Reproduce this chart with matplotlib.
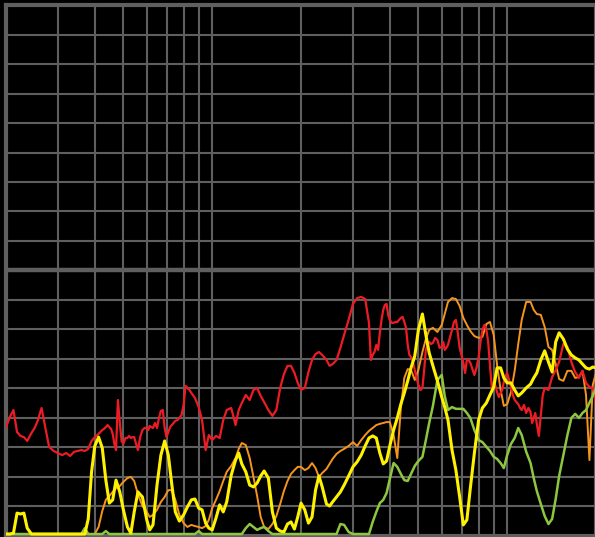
"""Four-band level traces on a black log-frequency grid."""
import numpy as np
import matplotlib
matplotlib.use("Agg")
import matplotlib.pyplot as plt

# shared frequency axis (Hz), R80 steps from 20 Hz to 2 kHz
FREQ = [
    20, 20.6, 21.2, 21.8, 22.4, 23, 23.6, 24.4, 25, 25.6,
    26.4, 27.2, 28, 29, 30, 31, 32, 33, 34, 35,
    36, 37, 38, 39, 40, 41.2, 42.4, 43.6, 44.8, 46,
    47.2, 48.6, 50, 51.6, 53, 54.4, 56, 58, 60, 61.4,
    63, 65, 67, 69, 71, 73, 75, 77.4, 80, 82.4,
    85, 87.4, 90, 92.4, 95, 97.4, 100, 103, 106, 109,
    112, 116, 120, 123, 126, 130, 134, 138, 142, 146,
    150, 155, 160, 165, 170, 175, 180, 185, 190, 195,
    200, 206, 212, 218, 224, 230, 236, 244, 250, 256,
    264, 272, 280, 290, 300, 310, 320, 330, 340, 350,
    360, 370, 380, 390, 400, 412, 424, 436, 448, 460,
    472, 486, 500, 516, 530, 544, 560, 580, 600, 614,
    630, 650, 670, 690, 710, 730, 750, 774, 800, 824,
    850, 874, 900, 924, 950, 974, 1000, 1030, 1060, 1090,
    1120, 1160, 1200, 1230, 1260, 1300, 1340, 1380, 1420, 1460,
    1500, 1550, 1600, 1650, 1700, 1750, 1800, 1850, 1900, 1950,
    2000,
]

# red is noisier, so it gets half steps where it jitters most
RED_FREQ = [
    20, 20.6, 21.2, 21.8, 22.4, 23, 23.6, 24.4, 25, 25.6,
    26.4, 27.2, 28, 29, 30, 31, 32, 33, 34, 35,
    36, 37, 38, 39, 40, 41.2,
    42.4, 43.0, 43.6, 44.2, 44.8, 45.4, 46, 46.6, 47.2, 47.9,
    48.6, 49.3, 50, 50.8, 51.6, 52.3, 53, 53.7, 54.4, 55.2,
    56, 57, 58, 59, 60, 60.7, 61.4, 62.2, 63, 64,
    65, 66, 67, 68, 69, 70, 71, 72, 73, 74,
    75, 76.2, 77.4, 78.7, 80, 81.2, 82.4, 83.7, 85,
    87.4, 90, 92.4, 95, 97.4, 100, 103, 106, 109, 112,
    116, 120, 123, 126, 130, 134, 138, 142, 146, 150,
    155, 160, 165, 170, 175, 180, 185, 190, 195, 200,
    206, 212, 218, 224, 230, 236, 244, 250, 256, 264,
    272, 280, 290, 300, 310, 320, 330,
    340, 345, 350, 355, 360, 365, 370, 375, 380, 385,
    390, 395, 400, 406, 412, 418, 424, 430, 436, 442,
    448, 454, 460, 466, 472, 479, 486, 493, 500, 508,
    516, 523, 530, 537, 544, 552, 560, 570, 580, 590,
    600, 607, 614, 622, 630, 640, 650, 660, 670, 680,
    690, 700, 710, 720, 730, 740, 750, 762, 774, 787,
    800, 812, 824, 837, 850, 862, 874, 887, 900, 912,
    924, 937, 950, 962, 974, 987, 1000, 1015, 1030, 1045,
    1060, 1075, 1090, 1105, 1120, 1140, 1160, 1180, 1200, 1215,
    1230, 1245, 1260, 1280, 1300, 1320, 1340,
    1380, 1420, 1460, 1500, 1550, 1600, 1650, 1700, 1750, 1800,
    1850, 1900, 1950, 2000,
]

RED = [
    36.8, 40.2, 42.6, 35.1, 33.8, 33.4, 32.1, 34.8, 36.5, 38.9,
    43.3, 36.5, 30.1, 28.7, 28.0, 27.3, 28.0, 27.0, 28.4, 28.7,
    29.0, 28.7, 29.4, 32.1, 33.4, 34.5,
    35.8, 36.2, 36.8, 37.5, 36.8, 36.2, 34.5, 31.1, 29.0, 46.0,
    38.5, 32.1, 31.1, 33.1, 33.1, 33.8, 33.1, 33.4, 33.4, 31.1,
    29.0, 33.4, 35.8, 36.5, 36.5, 35.8, 37.2, 36.8, 36.5, 38.2,
    36.5, 39.9, 42.3, 42.6, 36.5, 33.4, 35.1, 36.8, 37.5, 38.2,
    38.9, 39.2, 39.9, 40.9, 44.3, 50.8, 50.1, 49.4, 48.4,
    46.7, 43.6, 39.2, 29.0, 34.1, 32.4, 33.8, 33.1, 39.2, 42.6,
    43.3, 37.5, 42.6, 45.0, 47.7, 46.0, 49.4, 50.1, 47.4, 45.3,
    42.6, 40.6, 42.6, 50.1, 54.8, 57.6, 57.6, 55.2, 51.8, 49.4,
    50.1, 55.5, 59.6, 61.6, 62.3, 61.3, 59.6, 57.6, 58.2, 59.6,
    63.7, 68.1, 73.2, 78.6, 80.6, 81.0, 80.3,
    72.2, 59.6, 61.3, 62.3, 64.7, 63.0, 68.8, 73.2, 76.6, 78.3,
    78.6, 74.9, 73.2, 72.2, 72.2, 72.5, 72.5, 73.2, 73.9, 74.2,
    72.5, 70.5, 64.7, 61.3, 60.6, 58.9, 56.2, 53.5, 51.1, 49.4,
    50.1, 56.2, 63.0, 64.7, 65.7, 65.0, 65.4, 67.1, 66.4, 63.7,
    64.0, 65.7, 63.0, 63.7, 64.7, 67.4, 69.8, 72.5, 73.2, 68.8,
    63.7, 61.3, 58.6, 55.2, 59.6, 59.6, 58.6, 56.5, 54.5, 56.9,
    60.6, 65.7, 69.8, 71.5, 69.8, 65.7, 57.9, 50.1, 52.1, 50.8,
    48.7, 47.0, 48.4, 49.4, 52.1, 54.2, 55.2, 52.8, 50.4, 47.7,
    46.0, 45.3, 44.6, 43.3, 42.6, 44.3, 41.6, 43.3, 41.9, 38.2,
    39.9, 41.6, 37.9, 33.8, 40.9, 47.7, 50.1,
    49.4, 53.8, 56.2, 58.9, 65.0, 64.0, 58.9, 55.5, 53.5, 55.9,
    51.8, 50.4, 50.1, 45.0,
]

ORANGE = [0.5] * 25 + [
    2.9, 8.3, 12.1, 13.4, 14.8, 16.1, 16.8, 18.2, 19.5, 19.9,
    18.5, 14.1, 10.0, 8.0, 6.3, 7.0, 8.7, 11.4, 13.1, 15.4,
    15.4, 12.1, 7.0, 4.2, 2.9, 3.6, 3.2, 2.9, 2.5, 3.2,
    5.3, 9.3, 12.1, 15.1, 18.5, 21.6, 23.6, 26.3, 29.4, 31.4,
    30.7, 26.3, 19.9, 13.4, 6.3, 2.9, 2.2, 3.9, 6.6, 10.7,
    15.1, 18.5, 20.9, 22.2, 23.3, 23.3, 22.2, 22.9, 24.6, 22.9,
    19.9, 21.2, 22.6, 24.3, 26.0, 27.7, 28.7, 29.4, 30.4, 31.7,
    30.4, 32.4, 34.1, 35.5, 36.5, 37.5, 37.9, 38.2, 38.5, 38.5,
    34.1, 26.3, 43.3, 53.5, 56.5, 56.2, 52.8, 56.2, 62.3, 66.7,
    69.8, 70.5, 69.1, 71.5, 75.2, 79.3, 80.6, 80.3, 77.9, 73.9,
    71.5, 69.4, 67.7, 67.1, 67.4, 71.8, 72.5, 68.1, 57.9, 49.4,
    44.0, 44.6, 48.7, 55.9, 65.0, 73.2, 79.3, 79.3, 76.6, 75.2,
    74.9, 70.8, 64.0, 63.0, 58.2, 53.1, 52.5, 55.9, 55.9, 53.5,
    53.8, 55.9, 47.7, 25.6, 51.1, 55.2,
]

YELLOW = [
    0.5, 0.5, 0.8, 7.6, 7.3, 7.6, 2.5, 0.5, 0.5, 0.5,
    0.5, 0.5, 0.5, 0.5, 0.5, 0.5, 0.5, 0.5, 0.5, 0.5,
    0.5, 0.5, 5.6, 21.6, 30.4, 33.4, 29.7, 18.8, 11.0, 12.1,
    18.8, 14.8, 8.7, 2.9, 0.8, 8.0, 14.8, 13.1, 5.3, 1.9,
    3.6, 17.1, 27.3, 32.1, 27.3, 17.1, 8.0, 4.9, 7.0, 9.7,
    12.1, 12.4, 9.3, 8.7, 4.2, 2.5, 1.9, 5.9, 10.4, 8.0,
    11.4, 20.5, 25.6, 28.0, 24.3, 21.6, 17.1, 16.5, 17.8, 20.2,
    21.9, 19.5, 8.0, 2.5, 1.5, 1.2, 3.9, 4.6, 2.2, 6.3,
    11.0, 8.7, 4.2, 6.3, 15.4, 20.2, 16.5, 10.7, 10.0, 11.4,
    13.1, 14.8, 17.1, 20.2, 23.3, 25.0, 27.3, 30.4, 33.1, 33.8,
    33.1, 28.0, 24.3, 25.3, 30.4, 35.8, 39.9, 44.6, 48.4, 52.5,
    56.9, 60.9, 69.8, 75.2, 68.1, 62.0, 57.6, 52.5, 47.0, 43.6,
    39.2, 29.0, 22.2, 13.1, 3.6, 5.3, 16.1, 28.0, 39.2, 43.3,
    45.0, 47.7, 50.4, 56.9, 56.9, 53.5, 51.8, 51.8, 49.4, 47.4,
    48.4, 50.1, 51.4, 53.5, 55.2, 59.6, 62.7, 58.9, 55.5, 65.7,
    68.8, 66.7, 63.3, 61.3, 60.3, 59.6, 58.2, 56.9, 56.5, 57.2,
    56.9,
]

GREEN = [0.5] * 21 + [2.5] + [0.5] * 5 + [1.5] + [0.5] * 24 + [1.5] + [0.5] * 12 + [
    2.5, 3.9, 2.9, 1.9, 2.5, 2.9, 1.5,
] + [0.5] * 19 + [3.9, 3.6, 1.2] + [0.5] * 5 + [
    4.6, 8.0, 11.0, 12.1, 14.4, 19.2, 24.6, 23.3, 20.9, 18.8,
    18.5, 20.9, 23.6, 25.3, 26.7, 32.4, 38.2, 44.0, 52.8, 54.5,
    47.4, 42.6, 43.6, 43.0, 43.0, 43.0, 41.6, 39.9, 35.8, 32.4,
    31.7, 30.1, 28.7, 26.7, 26.0, 24.6, 22.9, 27.3, 31.1, 33.1,
    36.5, 34.1, 28.4, 24.6, 19.5, 15.1, 10.7, 6.6, 3.9, 5.6,
    12.4, 20.2, 27.3, 34.1, 39.9, 41.3, 39.9, 41.6, 42.6, 45.0,
    47.4, 50.1,
]

GRID_X = [20, 30, 40, 50, 60, 70, 80, 90, 100,
          200, 300, 400, 500, 600, 700, 800, 900, 1000, 2000]
GRID_Y = list(range(0, 181, 10))

GRAY = "#5f5f5f"
BG = "#000000"

fig = plt.figure(figsize=(5.95, 5.37), dpi=100)
fig.patch.set_facecolor(BG)
ax = fig.add_axes([6 / 595, 1.5 / 537, 590 / 595, 530.2 / 537])
ax.set_facecolor(BG)
ax.set_xscale("log")
ax.set_xlim(20, 2000)
ax.set_ylim(0, 180)

ax.set_xticks(GRID_X)
ax.set_xticks([], minor=True)
ax.set_yticks(GRID_Y)
ax.tick_params(which="both", length=0, labelbottom=False, labelleft=False)
ax.grid(True, which="major", color=GRAY, lw=1.5)
ax.axhline(90, color=GRAY, lw=3.2, zorder=1)

for side in ("left", "top", "bottom", "right"):
    ax.spines[side].set_color(GRAY)
    ax.spines[side].set_linewidth(3)

ax.plot(FREQ, ORANGE, color="#f7941d", lw=1.4, zorder=3)
ax.plot(RED_FREQ, RED, color="#ed1c24", lw=1.6, zorder=4)
ax.plot(FREQ, GREEN, color="#8dc63f", lw=1.8, zorder=5)
ax.plot(FREQ, YELLOW, color="#fff200", lw=2.2, zorder=6)

fig.savefig("out.png", dpi=100, facecolor=BG)
